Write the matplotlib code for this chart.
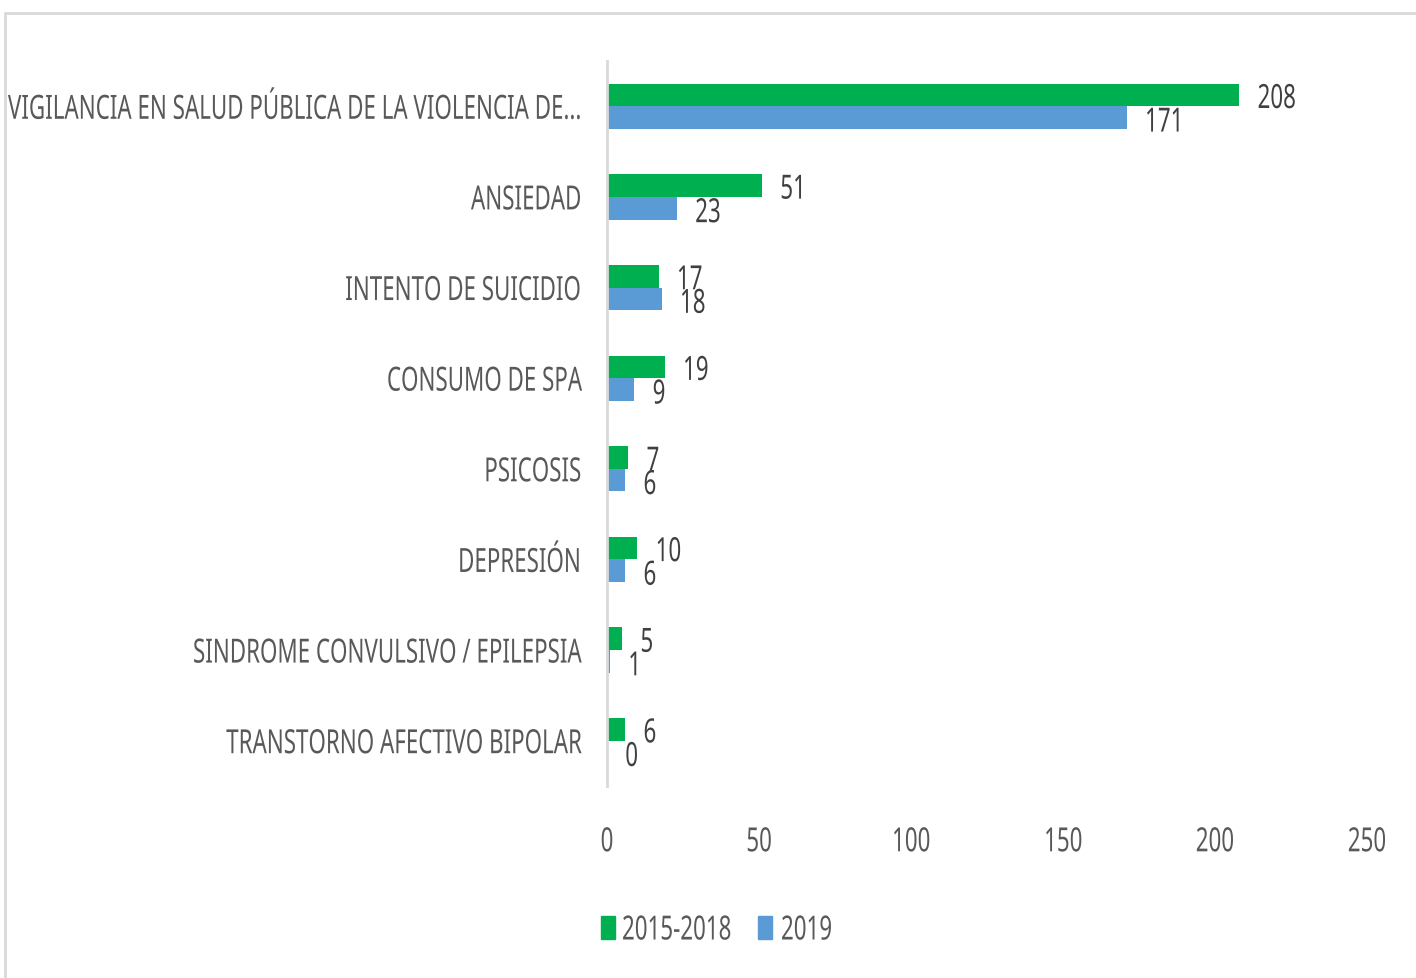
import matplotlib.pyplot as plt
import numpy as np
from matplotlib.patches import Rectangle
from matplotlib.patheffects import AbstractPathEffect
from matplotlib.transforms import Affine2D

categories = ['VIGILANCIA EN SALUD PÚBLICA DE LA VIOLENCIA DE...', 'ANSIEDAD',
              'INTENTO DE SUICIDIO', 'CONSUMO DE SPA', 'PSICOSIS', 'DEPRESIÓN',
              'SINDROME CONVULSIVO / EPILEPSIA', 'TRANSTORNO AFECTIVO BIPOLAR']
values_2015_2018 = [208, 51, 17, 19, 7, 10, 5, 6]
values_2019 = [171, 23, 18, 9, 6, 6, 1, 0]
x_ticks = [0, 50, 100, 150, 200, 250]
series_names = ['2015-2018', '2019']

green = '#00b050'
blue = '#5b9bd5'
label_color = '#595959'
value_color = '#404040'
SX = 0.67  # horizontal squeeze to mimic the condensed font


class Condense(AbstractPathEffect):
    """squeeze glyphs horizontally around the left, right or centre of the text"""

    def __init__(self, sx, anchor='left'):
        super().__init__()
        self.sx = sx
        self.anchor = anchor

    def draw_path(self, renderer, gc, tpath, affine, rgbFace=None):
        ext = tpath.get_extents()
        if self.anchor == 'right':
            a = ext.x1
        elif self.anchor == 'center':
            a = (ext.x0 + ext.x1) / 2
        else:
            a = 0
        t = Affine2D().translate(-a, 0).scale(self.sx, 1).translate(a, 0) + affine
        renderer.draw_path(gc, tpath, t, rgbFace)


plt.rcParams['font.family'] = ['Noto Sans', 'DejaVu Sans']

fig = plt.figure(figsize=(14.16, 9.79), dpi=100)
ax = fig.add_axes([0.4287, 0.1961, 0.5367, 0.7406])

# outer chart border
fig.patches.append(Rectangle((5 / 1416, -0.01), 1.1, 1 - 14 / 979 + 0.01,
                             transform=fig.transFigure, fill=False,
                             edgecolor='#d9d9d9', linewidth=2))

y = np.arange(len(categories))
h = 0.25
ax.barh(y - h / 2, values_2015_2018, height=h, color=green)
ax.barh(y + h / 2, values_2019, height=h, color=blue)

for yi, v in zip(y, values_2015_2018):
    ax.text(v + 6, yi - h / 2 + 0.05, str(v), va='center', ha='left', fontsize=24,
            color=value_color, path_effects=[Condense(SX, 'left')])
for yi, v in zip(y, values_2019):
    ax.text(v + 6, yi + h / 2 + 0.06, str(v), va='center', ha='left', fontsize=24,
            color=value_color, path_effects=[Condense(SX, 'left')])

ax.set_ylim(len(categories) - 0.5, -0.5)
ax.set_xlim(0, 250)
ax.set_yticks(y)
ax.set_yticklabels(categories, fontsize=24, color=label_color)
ax.set_xticks(x_ticks)
ax.set_xticklabels([str(t) for t in x_ticks], fontsize=24, color=label_color)
for lbl in ax.get_yticklabels():
    lbl.set_path_effects([Condense(SX, 'right')])
for lbl in ax.get_xticklabels():
    lbl.set_path_effects([Condense(SX, 'center')])
ax.tick_params(axis='both', length=0)
ax.tick_params(axis='y', pad=18)
ax.tick_params(axis='x', pad=29)
for s in ['top', 'right', 'bottom']:
    ax.spines[s].set_visible(False)
ax.spines['left'].set_color('#d9d9d9')
ax.spines['left'].set_linewidth(2)

# legend drawn by hand so the squeezed text keeps tight spacing
legend_items = [(series_names[0], green, 601, 622), (series_names[1], blue, 758, 781)]
for name, col, sx_px, tx_px in legend_items:
    fig.patches.append(Rectangle((sx_px / 1416, 1 - 940 / 979), 14 / 1416, 23 / 979,
                                 transform=fig.transFigure, color=col))
    fig.text(tx_px / 1416, 1 - 932 / 979, name, fontsize=24, color=label_color,
             va='center', ha='left', path_effects=[Condense(SX, 'left')])

fig.savefig('out.png', dpi=100)
